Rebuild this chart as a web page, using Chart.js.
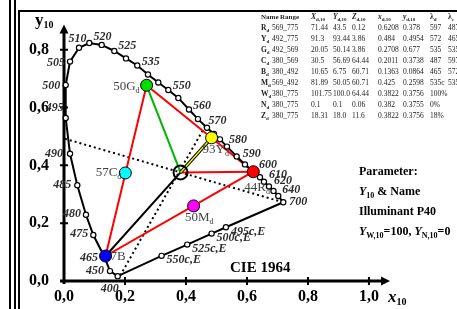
<!DOCTYPE html>
<html>
<head>
<meta charset="utf-8">
<title>CIE 1964 chromaticity</title>
<script src="https://cdn.jsdelivr.net/npm/chart.js@4.4.1/dist/chart.umd.min.js"></script>
<style>
  html, body { margin: 0; padding: 0; background: #fff; overflow: hidden; }
</style>
</head>
<body>
<canvas id="cie" width="457" height="309"></canvas>
<script>
// ---------- data ----------
// spectral locus (x10, y10), one circle per entry
const locusNm = [400, 450, 465, 475, 480, 485, 490, 495, 500, 505, 510, 515, 520, 525, 530, 535, 540, 545, 550, 555, 560, 565, 570, 575, 580, 585, 590, 595, 600, 605, 610, 620, 630, 640, 700];
const locusX = [0.1761, 0.1508, 0.1311, 0.0961, 0.0721, 0.0436, 0.0197, 0.0056, 0.0056, 0.0197, 0.0492, 0.0830, 0.1236, 0.1649, 0.2033, 0.2403, 0.2754, 0.3092, 0.3420, 0.3748, 0.4098, 0.4393, 0.4689, 0.4918, 0.5115, 0.5344, 0.5662, 0.5934, 0.6230, 0.6426, 0.6557, 0.6721, 0.6869, 0.7026, 0.7190];
const locusY = [0.0167, 0.0343, 0.0867, 0.1590, 0.2290, 0.3310, 0.4400, 0.5643, 0.6777, 0.7590, 0.8067, 0.8233, 0.8167, 0.7957, 0.7700, 0.7457, 0.7143, 0.6867, 0.6610, 0.6333, 0.5933, 0.5600, 0.5300, 0.5083, 0.4900, 0.4650, 0.4310, 0.4033, 0.3767, 0.3590, 0.3433, 0.3267, 0.3117, 0.2943, 0.2723];
const locusLabels = [400, 450, 465, 475, 480, 485, 490, 495, 500, 505, 510, 520, 525, 535, 550, 560, 570, 580, 590, 600, 610, 620, 640, 700];

// complementary wavelengths on the purple line 700 -> 400
const complNames = ['495c,E', '500c,E', '525c,E', '550c,E'];
const complX = [0.531, 0.484, 0.404, 0.320];
const complY = [0.186, 0.164, 0.126, 0.087];

// dotted boundary lines (492 / 569) through the white point
const boundAX = [0.0033, 0.7190], boundAY = [0.492, 0.2723];
const boundBX = [0.463, 0.185], boundBY = [0.536, 0.020];

// table
const tblName  = ['R', 'Y', 'G', 'C', 'B', 'M', 'W', 'N', 'Z'];
const tblRange = ['569_775', '492_775', '492_569', '380_569', '380_492', '569_492', '380_775', '380_775', '380_775'];
const tblXd = ['71.44', '91.3', '20.05', '30.5', '10.65', '81.89', '101.75', '0.1', '18.31'];
const tblYd = ['43.5', '93.44', '50.14', '56.69', '6.75', '50.05', '100.0', '0.1', '18.0'];
const tblZd = ['0.12', '3.86', '3.86', '64.44', '60.71', '60.71', '64.44', '0.06', '11.6'];
const tblxd = ['0.6208', '0.484', '0.2708', '0.2011', '0.1363', '0.425', '0.3822', '0.382', '0.3822'];
const tblyd = ['0.378', '0.4954', '0.677', '0.3738', '0.0864', '0.2598', '0.3756', '0.3755', '0.3756'];
const tblLd = ['597', '572', '535', '487', '465', '535c', '100%', '0%', '18%'];
const tblLc = ['487', '465', '535c', '597', '572', '535', '', '', ''];

const xTicks = [0, 0.2, 0.4, 0.6, 0.8, 1.0];
const yTicks = [0, 0.2, 0.4, 0.6, 0.8];
const xMax = 1.069, yMax = 0.887;

// ---------- styles ----------
const SERIF = '"Liberation Serif", "Times New Roman", serif';
const fnt = (style, size) => `${style} ${size}px ${SERIF}`;
const sampleColors = ['#ff0000', '#ffff00', '#00dd00', '#00ffff', '#0000ff', '#ff00ff'];
// label centre offset from its circle, px
const nmOffset = {
  400: [-8, 13], 450: [-15, 0], 465: [-15, 1.5], 475: [-14, -1], 480: [-14, -0.5], 485: [-15, -0.5],
  490: [-16, 0], 495: [-11, -10], 500: [-14.5, 1.3], 505: [-14, 1.5], 510: [-1.5, -9], 520: [0.8, -8],
  525: [13, -5], 535: [13.5, -4], 550: [13.5, -4], 560: [13, -4], 570: [10.5, -7], 580: [18, 1],
  590: [15, -3], 600: [14, -7], 610: [14, -7], 620: [14, -6], 640: [13, -6], 700: [15, 0]
};
// sample label placement: dx, dy (baseline), align
const sampleLabelPos = [[-9, 19, 'left'], [-9, 15, 'left'], [-7, 5, 'right'], [-4, 3, 'right'], [5, 4, 'left'], [-8.6, 15, 'left']];

const pt = (xs, ys, i) => ({ x: +xs[i], y: +ys[i] });
const S = i => pt(tblxd, tblyd, i);
const W = S(6);

function rich(ctx, x, y, parts, align) {
  let w = 0;
  parts.forEach(p => { ctx.font = p[1]; w += ctx.measureText(p[0]).width; });
  let cx = align === 'right' ? x - w : align === 'center' ? x - w / 2 : x;
  parts.forEach(p => {
    ctx.font = p[1];
    ctx.fillText(p[0], cx, y + (p[2] || 0));
    cx += ctx.measureText(p[0]).width;
  });
}

const line = (data, color, width, order, extra) => Object.assign({
  data, showLine: true, borderColor: color, borderWidth: width, pointRadius: 0, order, clip: false
}, extra || {});

const datasets = [
  { data: [0, 1, 2, 3, 4, 5].map(S), showLine: false, pointRadius: 6, pointBackgroundColor: sampleColors,
    pointBorderColor: '#000', pointBorderWidth: 1, order: 0, clip: false },
  { data: [W], showLine: false, pointRadius: 7, pointBackgroundColor: 'rgba(0,0,0,0)',
    pointBorderColor: '#000', pointBorderWidth: 2, order: 1, clip: false },
  line(locusNm.map((n, i) => pt(locusX, locusY, i)), '#000', 2, 2,
    { pointRadius: 2.6, pointBackgroundColor: '#fff', pointBorderColor: '#000', pointBorderWidth: 1.2 }),
  line([pt(locusX, locusY, locusNm.length - 1)].concat(complNames.map((n, i) => pt(complX, complY, i)), [pt(locusX, locusY, 0)]),
    '#000', 2, 3, { pointRadius: [0, 2.6, 2.6, 2.6, 2.6, 0], pointBackgroundColor: '#fff', pointBorderColor: '#000', pointBorderWidth: 1.2 }),
  line([S(1), W], '#f0f000', 1.5, 4),
  line([S(1), W], '#000', 3.5, 5),
  line([S(2), W], '#00b400', 2, 6),
  line([S(0), W], '#ff0000', 2, 6),
  line([S(4), W], '#000', 2, 6),
  line([S(0), S(2), S(4), S(0)], '#ff0000', 2, 7),
  line([pt(boundAX, boundAY, 0), pt(boundAX, boundAY, 1)], '#000', 2, 8, { borderDash: [2, 3] }),
  line([pt(boundBX, boundBY, 0), pt(boundBX, boundBY, 1)], '#000', 2, 8, { borderDash: [2, 3] })
];

const overlay = {
  id: 'overlay',
  beforeDraw(chart) {
    const ctx = chart.ctx;
    ctx.save();
    ctx.fillStyle = '#fff';
    ctx.fillRect(0, 0, chart.width, chart.height);
    ctx.fillStyle = '#000';
    ctx.fillRect(9, 0, 2, chart.height);
    ctx.fillRect(14, 0, 2, chart.height);
    ctx.fillRect(18, 10, 2, chart.height - 10);
    ctx.fillRect(18, 10, chart.width - 18, 2);
    ctx.restore();
  },
  beforeDatasetsDraw(chart) {
    const { ctx, scales: { x, y } } = chart;
    const x0 = x.getPixelForValue(0), y0 = y.getPixelForValue(0);
    const xEnd = x.right, yEnd = y.top;
    ctx.save();
    ctx.strokeStyle = '#000';
    ctx.fillStyle = '#000';
    ctx.lineWidth = 3;
    ctx.beginPath();
    ctx.moveTo(x0 - 4, y0); ctx.lineTo(xEnd - 6, y0);
    ctx.moveTo(x0, y0 + 3); ctx.lineTo(x0, yEnd + 6);
    ctx.stroke();
    ctx.beginPath();
    ctx.moveTo(xEnd, y0); ctx.lineTo(xEnd - 9, y0 - 4.5); ctx.lineTo(xEnd - 9, y0 + 4.5); ctx.closePath();
    ctx.moveTo(x0, yEnd); ctx.lineTo(x0 - 4.5, yEnd + 9); ctx.lineTo(x0 + 4.5, yEnd + 9); ctx.closePath();
    ctx.fill();
    ctx.lineWidth = 2;
    ctx.beginPath();
    xTicks.slice(1).forEach(v => { const p = x.getPixelForValue(v); ctx.moveTo(p, y0 - 4); ctx.lineTo(p, y0 + 4); });
    yTicks.slice(1).forEach(v => { const p = y.getPixelForValue(v); ctx.moveTo(x0 - 4, p); ctx.lineTo(x0 + 4, p); });
    ctx.stroke();
    ctx.restore();
  },
  afterDatasetsDraw(chart) {
    const { ctx, scales: { x, y } } = chart;
    ctx.save();
    ctx.textBaseline = 'middle';
    ctx.textAlign = 'center';
    ctx.fillStyle = '#2b2b2b';
    ctx.font = fnt('italic bold', 12);
    // wavelength labels on the locus
    locusLabels.forEach(nm => {
      const i = locusNm.indexOf(nm), o = nmOffset[nm] || [12, -4];
      ctx.fillText(String(nm), x.getPixelForValue(locusX[i]) + o[0], y.getPixelForValue(locusY[i]) + o[1]);
    });
    ctx.textAlign = 'left';
    complNames.forEach((n, i) => {
      ctx.fillText(n, x.getPixelForValue(complX[i]) + 5, y.getPixelForValue(complY[i]) + 4.5);
    });

    // sample labels e.g. 44R_d
    ctx.textBaseline = 'alphabetic';
    ctx.fillStyle = '#444';
    sampleLabelPos.forEach((p, i) => {
      const s = S(i);
      const parts = [[Math.round(+tblYd[i]) + tblName[i], fnt('', 13)]];
      if (tblName[i] !== 'B') parts.push(['d', fnt('', 8), 3]);
      rich(ctx, x.getPixelForValue(s.x) + p[0], y.getPixelForValue(s.y) + p[1], parts, p[2]);
    });

    // axis titles
    ctx.fillStyle = '#000';
    rich(ctx, 35, 25, [['y', fnt('bold', 17)], ['10', fnt('bold', 10), 3]], 'left');
    rich(ctx, 388, 302, [['x', fnt('italic bold', 17)], ['10', fnt('bold', 10), 3]], 'left');
    ctx.font = fnt('bold', 15);
    ctx.fillText('CIE 1964', 230, 272);

    // parameter block
    const b = fnt('bold', 12), bi = fnt('italic bold', 12), bs = fnt('bold', 8);
    rich(ctx, 359, 175, [['Parameter:', b]], 'left');
    rich(ctx, 359, 195, [['Y', bi], ['10', bs, 3], [' & Name', b]], 'left');
    rich(ctx, 359, 215, [['Illuminant P40', b]], 'left');
    rich(ctx, 359, 235, [['Y', bi], ['W,10', bs, 3], ['=100, ', b], ['Y', bi], ['N,10', bs, 3], ['=0', b]], 'left');

    // table
    const tf = fnt('', 7.5), th = fnt('bold', 7), tb = fnt('bold', 7.5), tbi = fnt('italic bold', 7.5), ts = fnt('bold', 5);
    const col = [261, 272, 311, 333, 352, 378, 403, 430, 448];
    ctx.fillStyle = '#222';
    rich(ctx, 261, 19, [['Name', th]], 'left');
    rich(ctx, 280, 19, [['Range', th]], 'left');
    ['X', 'Y', 'Z', 'x', 'y'].forEach((h, k) => rich(ctx, col[2 + k], 19, [[h, tbi], ['d,10', ts, 2]], 'left'));
    rich(ctx, col[7], 19, [['\u03bb', tb], ['d', ts, 2]], 'left');
    rich(ctx, col[8], 19, [['\u03bb', tb], ['c', ts, 2]], 'left');
    tblName.forEach((n, r) => {
      const yy = 30 + r * 11;
      rich(ctx, col[0], yy, [[n, tb], ['d', ts, 2]], 'left');
      [tblRange, tblXd, tblYd, tblZd, tblxd, tblyd, tblLd, tblLc].forEach((arr, k) => {
        ctx.font = tf;
        ctx.fillText(arr[r], col[1 + k], yy);
      });
    });
    ctx.restore();
  }
};

new Chart(document.getElementById('cie'), {
  type: 'scatter',
  data: { datasets },
  options: {
    responsive: false,
    animation: false,
    devicePixelRatio: 1,
    layout: { padding: { left: 0, right: 67, top: 15, bottom: 0 } },
    plugins: { legend: { display: false }, tooltip: { enabled: false } },
    scales: {
      x: {
        type: 'linear', min: 0, max: xMax,
        grid: { display: false, drawTicks: false }, border: { display: false },
        afterBuildTicks: s => { s.ticks = xTicks.map(v => ({ value: v })); },
        afterFit: s => { s.height = 28; },
        ticks: { padding: 6, color: '#000', maxRotation: 0, autoSkip: false,
          font: { family: SERIF, size: 16, weight: 'bold' },
          callback: v => v.toFixed(1).replace('.', ',') }
      },
      y: {
        type: 'linear', min: 0, max: yMax,
        grid: { display: false, drawTicks: false }, border: { display: false },
        afterBuildTicks: s => { s.ticks = yTicks.map(v => ({ value: v })); },
        afterFit: s => { s.width = 64; },
        ticks: { padding: 15, color: '#000', autoSkip: false,
          font: { family: SERIF, size: 16, weight: 'bold' },
          callback: v => v.toFixed(1).replace('.', ',') }
      }
    }
  },
  plugins: [overlay]
});
</script>
</body>
</html>
